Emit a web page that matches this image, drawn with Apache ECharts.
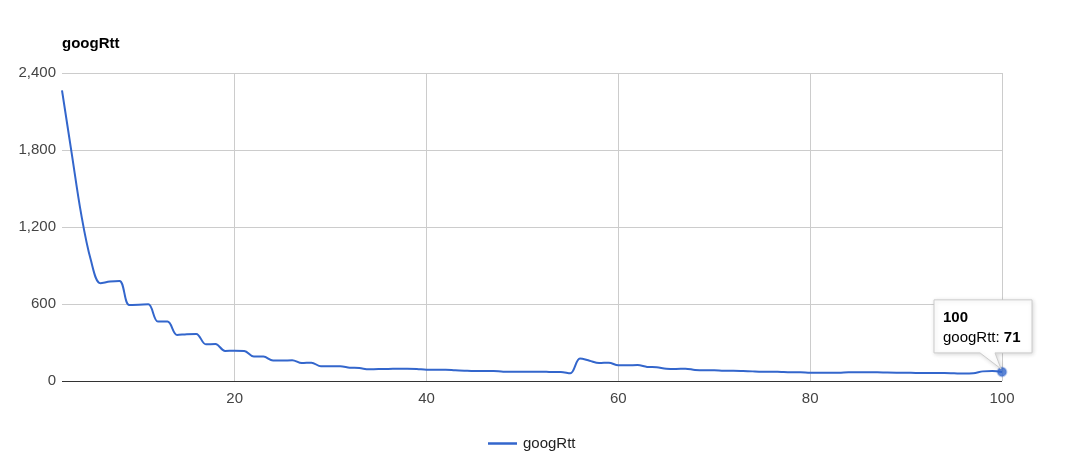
<!DOCTYPE html>
<html>
<head>
<meta charset="utf-8">
<script src="https://cdn.jsdelivr.net/npm/echarts@6/dist/echarts.min.js"></script>
<style>
html,body{margin:0;padding:0;background:#fff;}
#c{width:1074px;height:470px;}
</style>
</head>
<body>
<div id="c"></div>
<script>
var seriesName = 'googRtt';
var xValues = [];
for (var i = 2; i <= 100; i++) xValues.push(i);
var rttValues = [
  2264, 1780, 1300, 944, 762, 775, 780, 593, 595, 598,
  463, 463, 359, 365, 367, 286, 288, 234, 236, 234,
  190, 190, 159, 159, 162, 140, 143, 114, 114, 114,
  104, 101, 91, 94, 94, 96, 96, 94, 88, 88,
  88, 83, 80, 78, 78, 78, 73, 73, 73, 73,
  73, 70, 70, 60, 175, 158, 140, 143, 122, 122,
  124, 110, 107, 96, 94, 96, 86, 83, 83, 80,
  80, 78, 75, 73, 73, 70, 68, 68, 65, 65,
  65, 65, 68, 68, 68, 68, 66, 65, 65, 63,
  63, 62, 62, 60, 58, 60, 75, 78, 71
];
var xTickLabels = [20, 40, 60, 80, 100];
var yMin = 0, yMax = 2400, yStep = 600;

var FONT = 'Arial, "Liberation Sans", sans-serif';
var COLOR = '#3366cc';
var lineData = xValues.map(function (x, k) { return [x, rttValues[k]]; });
var lastIdx = lineData.length - 1;
var lastPoint = lineData[lastIdx];

var chart = echarts.init(document.getElementById('c'));
var option = {
  animation: false,
  backgroundColor: '#fff',
  title: {
    text: seriesName,
    left: 62, top: 36, padding: 0,
    textStyle: { fontFamily: FONT, fontSize: 15, fontWeight: 'bold', color: '#000' }
  },
  legend: {
    data: [{ name: seriesName, icon: 'rect' }],
    left: 483, top: 431,
    itemWidth: 29, itemHeight: 2.5, itemGap: 8,
    textStyle: { fontFamily: FONT, fontSize: 15, color: '#222', padding: [0, 0, 0, 1] }
  },
  tooltip: { show: false },
  grid: { left: 62, right: 72, top: 73, bottom: 89, containLabel: false },
  xAxis: {
    type: 'value', min: xValues[0], max: xValues[xValues.length - 1],
    axisLine: { show: false },
    axisTick: { show: false, customValues: xTickLabels },
    axisLabel: { customValues: xTickLabels, fontFamily: FONT, fontSize: 15, color: '#444', margin: 10 },
    splitLine: { show: true, lineStyle: { color: '#cccccc', width: 1 } }
  },
  yAxis: {
    type: 'value', min: yMin, max: yMax, interval: yStep,
    axisLine: { show: false },
    axisTick: { show: false },
    axisLabel: {
      fontFamily: FONT, fontSize: 15, color: '#444', margin: 6,
      formatter: function (v) { return v.toLocaleString('en-US'); }
    },
    splitLine: { show: true, lineStyle: { color: '#cccccc', width: 1 } }
  },
  series: [
    {
      name: seriesName, type: 'line', data: lineData,
      smooth: 0.35, showSymbol: false,
      lineStyle: { color: COLOR, width: 2 },
      itemStyle: { color: COLOR },
      markLine: {
        silent: true, symbol: 'none', label: { show: false },
        lineStyle: { color: '#333333', width: 1, type: 'solid' },
        data: [{ yAxis: 0 }]
      },
      z: 3
    },
    {
      name: 'hover', type: 'scatter', data: [lastPoint],
      symbol: 'circle', symbolSize: 9,
      itemStyle: { color: COLOR, borderColor: 'rgba(51,102,204,0.35)', borderWidth: 2 },
      z: 5, silent: true
    }
  ]
};
chart.setOption(option);

// Annotation-style tooltip anchored to the last data point
var p = chart.convertToPixel({ gridIndex: 0 }, lastPoint);
var px = p[0], py = p[1];
var L = px - 68, T = py - 72, R = px + 30, B = py - 19;
chart.setOption({
  graphic: [
    {
      type: 'polygon', z: 10,
      shape: { points: [[L, T], [R, T], [R, B], [px - 7, B], [px - 1, py - 3], [px - 22, B], [L, B]] },
      style: { fill: '#fff', stroke: '#cccccc', lineWidth: 1,
        shadowBlur: 4, shadowOffsetX: 1, shadowOffsetY: 1, shadowColor: 'rgba(0,0,0,0.15)' }
    },
    {
      type: 'text', z: 11, x: L + 9, y: T + 10,
      style: { text: String(lastPoint[0]), font: 'bold 15px ' + FONT, fill: '#000' }
    },
    {
      type: 'text', z: 11, x: L + 9, y: T + 30,
      style: {
        text: '{n|' + seriesName + ': }{b|' + lastPoint[1] + '}',
        rich: {
          n: { font: '15px ' + FONT, fill: '#000' },
          b: { font: 'bold 15px ' + FONT, fill: '#000' }
        }
      }
    }
  ]
});
</script>
</body>
</html>
